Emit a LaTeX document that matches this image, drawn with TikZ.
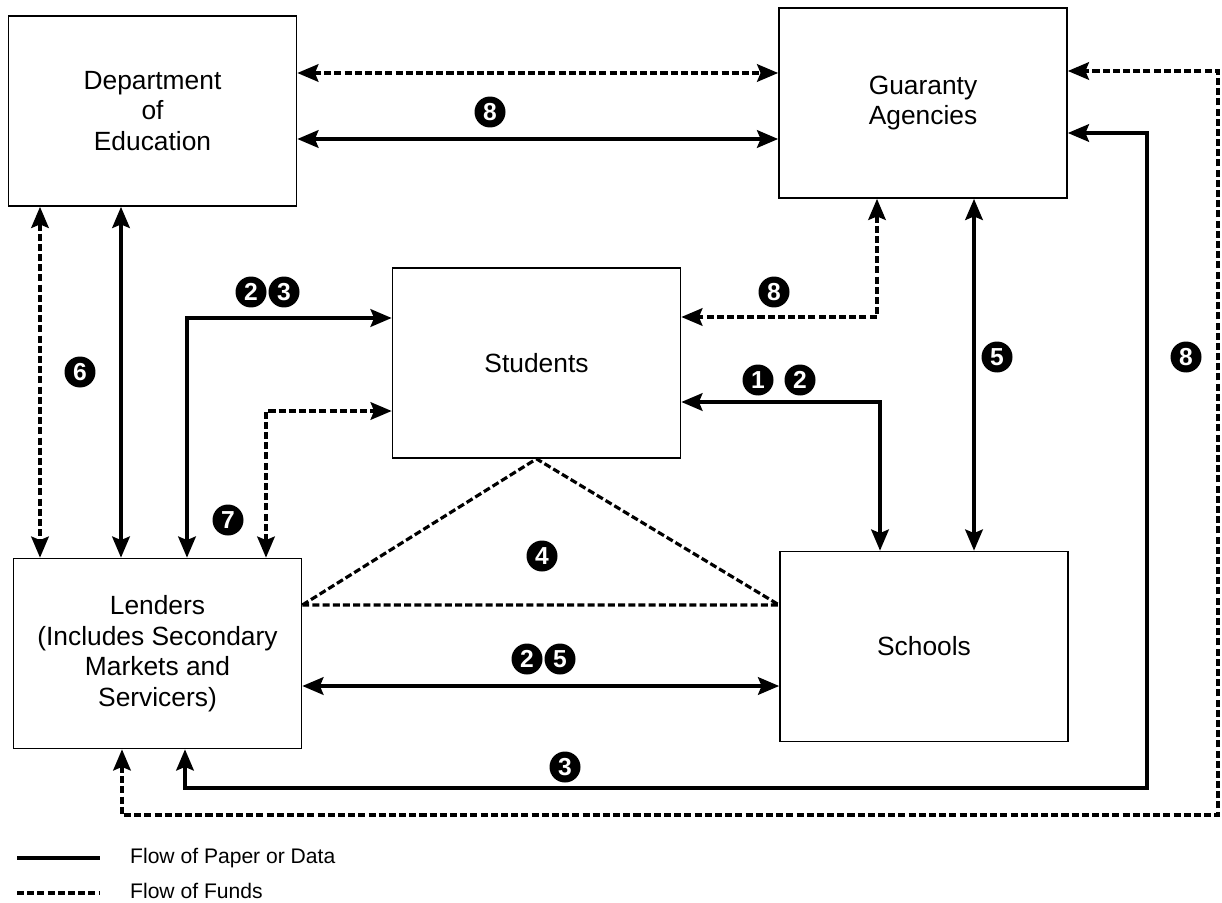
\documentclass[tikz,border=0pt]{standalone}
\usepackage{fontspec}
\setmainfont{Liberation Sans}
\usetikzlibrary{arrows.meta,calc}
\tikzset{
  >={Stealth[length=12pt,width=10pt,inset=2pt]},
  entity/.style={draw, line width=1pt, minimum width=5.76cm, minimum height=3.8cm, inner sep=0pt, align=center, font=\fontsize{15}{17.4}\selectfont},
  paper/.style={line width=2pt},
  funds/.style={line width=1.8pt, dash pattern=on 4pt off 1.8pt},
  num/.style={circle, fill=black, text=white, inner sep=0pt, minimum size=0.62cm, font=\fontsize{14}{14}\selectfont\bfseries},
  legend/.style={anchor=west, font=\fontsize{12}{14}\selectfont}
}

\begin{document}
\begin{tikzpicture}[x=0.02cm, y=-0.02cm]
    \useasboundingbox (0,0) rectangle (1222,902);
    % boxes
    \node[entity] (dept) at (152.5,111) {Department\\of\\Education};
    \node[entity] (guar) at (923,103) {Guaranty\\Agencies};
    \node[entity] (stud) at (536.5,363) {Students};
    \node[entity] (lend) at (157.5,653.5) {Lenders\\(Includes Secondary\\Markets and\\Servicers)};
    \node[entity] (sch) at (924,646.5) {Schools};
    % turning points
    \coordinate (ftop) at (0,73);
    \coordinate (ptop) at (0,139);
    \coordinate (f6) at (40,0);
    \coordinate (p6) at (121,0);
    \coordinate (p23) at (187,318);
    \coordinate (f7) at (266,411);
    \coordinate (f8s) at (877,317);
    \coordinate (p12) at (880,402);
    \coordinate (p5) at (974,0);
    \coordinate (p25) at (0,686);
    \coordinate (f4) at (0,605);
    \coordinate (p3a) at (185,788);
    \coordinate (p3b) at (1147,133);
    \coordinate (f8a) at (122,815);
    \coordinate (f8b) at (1218,71);
    % flows
    \draw[funds,<->] (dept.east |- ftop) -- (guar.west |- ftop);
    \draw[paper,<->] (dept.east |- ptop) -- (guar.west |- ptop);
    \draw[funds,<->] (dept.south -| f6) -- (lend.north -| f6);
    \draw[paper,<->] (dept.south -| p6) -- (lend.north -| p6);
    \draw[paper,<->] (lend.north -| p23) -- (p23) -- (stud.west |- p23);
    \draw[funds,<->] (lend.north -| f7) -- (f7) -- (stud.west |- f7);
    \draw[funds,<->] (guar.south -| f8s) -- (f8s) -- (stud.east |- f8s);
    \draw[paper,<->] (stud.east |- p12) -- (p12) -- (sch.north -| p12);
    \draw[paper,<->] (guar.south -| p5) -- (sch.north -| p5);
    \draw[paper,<->] (lend.east |- p25) -- (sch.west |- p25);
    \draw[funds] (lend.east |- f4) -- (stud.south) -- (sch.west |- f4) -- cycle;
    \draw[paper,<->] (lend.south -| p3a) -- (p3a) -| (p3b) -- (guar.east |- p3b);
    \draw[funds,<->] (lend.south -| f8a) -- (f8a) -| (f8b) -- (guar.east |- f8b);
    % numbers
    \node[num] (n8top) at (490,112) {8};
    \node[num] (n6) at (80,372) {6};
    \node[num] (n2a) at (251,292) {2};
    \node[num] (n3a) at (284,292) {3};
    \node[num] (n7) at (228,520) {7};
    \node[num] (n8mid) at (774,292) {8};
    \node[num] (n1) at (758,380) {1};
    \node[num] (n2b) at (800,380) {2};
    \node[num] (n5) at (997,357) {5};
    \node[num] (n8right) at (1186,357) {8};
    \node[num] (n4) at (542,556) {4};
    \node[num] (n2c) at (527,659) {2};
    \node[num] (n5b) at (560,659) {5};
    \node[num] (n3b) at (565,767) {3};
    % legend
    \node[legend] (lgpaper) at (124,858) {Flow of Paper or Data};
    \node[legend] (lgfunds) at (124,891) {Flow of Funds};
    \coordinate (lg1) at (17,858);
    \coordinate (lg2) at (17,893);
    \draw[paper] (lg1) -- ++(83,0);
    \draw[funds] (lg2) -- ++(83,0);
\end{tikzpicture}
\end{document}
